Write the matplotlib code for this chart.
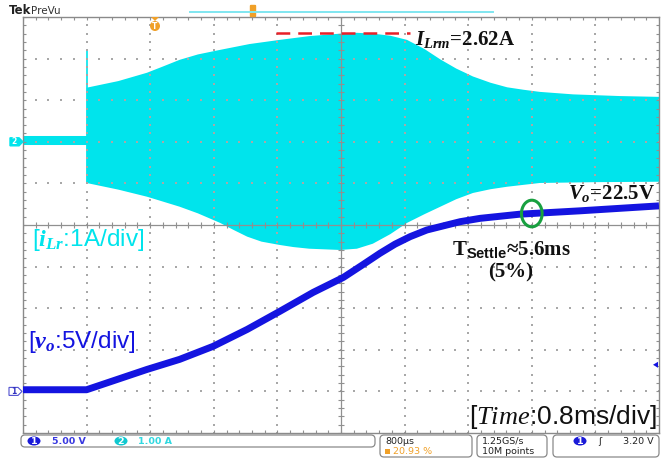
import matplotlib.pyplot as plt
import numpy as np
from matplotlib.collections import LineCollection
from matplotlib.patches import Ellipse, FancyBboxPatch, Circle, Polygon

# scope settings
T_DIV = 0.8      # ms/div
I_DIV = 1.0      # A/div  (channel 2)
V_DIV = 5.0      # V/div  (channel 1)
I_POS = 2        # channel 2 ground, divisions
V_POS = -4       # channel 1 ground, divisions

# resonant inductor current envelope (ms, A)
t_top = [0.80, 1.20, 1.56, 1.76, 1.97, 2.20, 2.48, 2.85, 3.23, 3.60, 3.99, 4.20,
         4.40, 4.62, 4.83, 5.05, 5.25, 5.45, 5.66, 5.88, 6.09, 6.30, 6.50, 6.92,
         7.50, 8.00]
i_top = [1.30, 1.46, 1.66, 1.81, 1.97, 2.10, 2.21, 2.35, 2.45, 2.54, 2.60, 2.62,
         2.60, 2.55, 2.45, 2.23, 1.98, 1.76, 1.57, 1.42, 1.31, 1.25, 1.20, 1.14,
         1.10, 1.08]
t_bot = [0.80, 1.20, 1.56, 1.97, 2.20, 2.48, 2.65, 2.82, 3.00, 3.23, 3.40, 3.60,
         3.99, 4.20, 4.40, 4.62, 4.83, 5.05, 5.25, 5.45, 5.66, 5.88, 6.09, 6.50,
         7.20, 8.00]
i_bot = [-0.99, -1.15, -1.32, -1.56, -1.72, -1.95, -2.12, -2.28, -2.40, -2.48, -2.53,
         -2.57, -2.60, -2.57, -2.45, -2.22, -1.95, -1.74, -1.56, -1.38, -1.23, -1.14,
         -1.08, -0.99, -0.97, -0.96]
t_pre = [0.0, 0.80]
i_pre = [0.05, 0.05]
i_spike = 2.2

# output voltage (ms, V)
t_vo = [0.00, 0.80, 1.56, 1.97, 2.39, 2.82, 3.23, 3.65, 4.03, 4.27, 4.49, 4.68,
        4.87, 5.08, 5.31, 5.50, 5.75, 6.25, 7.00, 8.00]
vo = [0.2, 0.2, 2.64, 3.85, 5.41, 7.45, 9.62, 11.9, 13.7, 15.2, 16.6, 17.7,
      18.6, 19.4, 19.95, 20.4, 20.8, 21.3, 21.7, 22.3]

I_LRM = 2.62
T_START = 0.8
T_SETTLE = 5.6

CYAN = '#00e4ec'
BLUE = '#1414e0'
ORANGE = '#f0a028'
GRID = '#a8a8a8'

plt.rcParams.update({
    'mathtext.fontset': 'custom',
    'mathtext.rm': 'Liberation Serif:bold',
    'mathtext.it': 'Liberation Serif:italic:bold',
    'mathtext.bf': 'Liberation Serif:bold',
    'mathtext.sf': 'Liberation Sans:bold',
    'mathtext.cal': 'Liberation Serif:italic',   # used for the plain italic "Time"
})


def ch2(i):
    return np.asarray(i) / I_DIV + I_POS


def ch1(v):
    return np.asarray(v) / V_DIV + V_POS


W, H = 661, 459
fig = plt.figure(figsize=(W / 100, H / 100), dpi=100)
x0, x1, y0, y1 = 23, 659, 17, 433
ax = fig.add_axes([x0 / W, 1 - y1 / H, (x1 - x0) / W, (y1 - y0) / H])
ax.set_xlim(0, 10 * T_DIV)
ax.set_ylim(-5, 5)
ax.set_xticks([])
ax.set_yticks([])
for s in ax.spines.values():
    s.set_color('#8a8a8a')
    s.set_linewidth(1.0)

# ---- graticule ----
xmaj = np.arange(1, 10) * T_DIV
ymaj = np.arange(-4, 5)
xmin = np.arange(0, 50 + 1) * T_DIV / 5
ymin = np.arange(-25, 26) / 5
dots = []
for xv in xmaj:
    if abs(xv - 5 * T_DIV) > 1e-6:
        dots += [(xv, yv) for yv in ymin]
for yv in ymaj:
    if yv != 0:
        dots += [(xv, yv) for xv in xmin]
dots = np.array(dots)
ax.scatter(dots[:, 0], dots[:, 1], s=1.3, marker='s', color=GRID, lw=0, zorder=2)

ax.axhline(0, color='#909090', lw=0.9, zorder=2)
ax.axvline(5 * T_DIV, color='#909090', lw=0.9, zorder=2)
dx = 3 / 63.6 * T_DIV
dy = 3 / 41.6
ticks = []
for xv in xmin:
    ticks.append([(xv, -dy), (xv, dy)])
    ticks.append([(xv, 5), (xv, 5 - dy)])
    ticks.append([(xv, -5), (xv, -5 + dy)])
for yv in ymin:
    ticks.append([(5 * T_DIV - dx, yv), (5 * T_DIV + dx, yv)])
    ticks.append([(0, yv), (dx, yv)])
    ticks.append([(10 * T_DIV, yv), (10 * T_DIV - dx, yv)])
ax.add_collection(LineCollection(ticks, colors='#909090', linewidths=0.8, zorder=2))

# ---- channel 2: inductor current ----
env_x = np.concatenate([t_top, t_bot[::-1]])
env_y = np.concatenate([ch2(i_top), ch2(i_bot[::-1])])
ax.fill(env_x, env_y, color=CYAN, lw=0, zorder=1)
ax.plot(t_pre, ch2(i_pre), color=CYAN, lw=6.5, solid_capstyle='butt', zorder=1)
ax.plot([T_START, T_START], ch2([i_bot[0], i_spike]), color=CYAN, lw=1.2, zorder=1)

# ---- channel 1: output voltage ----
ax.plot(t_vo, ch1(vo), color=BLUE, lw=5, solid_capstyle='butt', zorder=3)

# peak current marker
ax.plot([3.18, 4.87], ch2([I_LRM, I_LRM]), color='#e82028', lw=1.8,
        dashes=(5.5, 3.2), zorder=4)

# settling point
t_s = T_START + T_SETTLE
ax.add_patch(Ellipse((t_s, ch1(np.interp(t_s, t_vo, vo))), 0.26, 0.64,
                     fill=False, ec='#18a040', lw=2.2, zorder=5))

serif = dict(family='Liberation Serif', weight='bold', fontsize=15, color='#111111',
             zorder=6)
ax.text(4.93, 4.33, r'$I_{Lrm}$=2.62A', ha='left', va='baseline', **serif)
ax.text(7.95, 0.63, r'$V_o$=22.5V', ha='right', va='baseline', **serif)
ax.text(5.40, -0.72, r'T$_{\mathsf{Settle}}$≈5.6ms', ha='left', va='baseline', **serif)
ax.text(6.13, -1.25, '(5%)', ha='center', va='baseline', **serif)

ax.text(0.11, -0.50, r'[$i_{Lr}$:1A/div]', ha='left', va='baseline',
        family='Liberation Sans', fontsize=17.5, color=CYAN, zorder=6)
ax.text(0.06, -2.96, r'[$v_o$:5V/div]', ha='left', va='baseline',
        family='Liberation Sans', fontsize=17.5, color=BLUE, zorder=6)
ax.text(7.97, -4.78, r'[$\mathcal{Time}$:0.8ms/div]', ha='right', va='baseline',
        family='Liberation Sans', fontsize=19, color='#111111', zorder=6)

# ---- screen chrome, drawn in pixel coordinates ----
ov = fig.add_axes([0, 0, 1, 1], facecolor='none')
ov.set_xlim(0, W)
ov.set_ylim(H, 0)
ov.axis('off')

ov.text(9, 11, 'Tek', fontsize=8.5, weight='bold', family='DejaVu Sans',
        va='center', color='#222222')
ov.text(31, 11, 'PreVu', fontsize=7.5, family='DejaVu Sans', va='center',
        color='#333333')
ov.plot([190, 493], [12, 12], color='#7fe6f0', lw=1.4)
ov.add_patch(FancyBboxPatch((251, 6), 4, 10, boxstyle='round,pad=0.5',
                            fc=ORANGE, ec=ORANGE))
# trigger position
ov.add_patch(Polygon([(151, 17), (159, 17), (155, 21)], closed=True, fc=ORANGE,
                     ec='none'))
ov.add_patch(Circle((155, 26), 5, fc=ORANGE, ec='none'))
ov.text(155, 26.5, 'T', fontsize=5.5, weight='bold', color='white',
        ha='center', va='center')

# channel ground markers
gy2 = y0 + (5 - I_POS) * (y1 - y0) / 10
gy1 = y0 + (5 - V_POS) * (y1 - y0) / 10
ov.add_patch(Polygon([(10, gy2 - 4), (19, gy2 - 4), (23, gy2), (19, gy2 + 4),
                      (10, gy2 + 4)], closed=True, fc=CYAN, ec=CYAN))
ov.text(14, gy2, '2', fontsize=5.5, weight='bold', color='white', ha='center',
        va='center')
ov.add_patch(Polygon([(9, gy1 - 4), (18, gy1 - 4), (22, gy1), (18, gy1 + 4),
                      (9, gy1 + 4)], closed=True, fc='white', ec='#5050d0', lw=0.8))
ov.text(13.5, gy1, '1', fontsize=5.5, weight='bold', color='#3030c0',
        ha='center', va='center')
# trigger level arrow on the right
ly = y0 + (5 - ch1(3.20)) * (y1 - y0) / 10
ov.add_patch(Polygon([(653, ly), (658, ly - 3), (658, ly + 3)], closed=True,
                     fc=BLUE, ec='none'))

# status bar
box = dict(boxstyle='round,pad=0,rounding_size=4', fc='white', ec='#8a8a8a', lw=0.9)
ov.add_patch(FancyBboxPatch((21, 435), 354, 12, **box))
ov.add_patch(FancyBboxPatch((380, 435), 92, 22, **box))
ov.add_patch(FancyBboxPatch((477, 435), 70, 22, **box))
ov.add_patch(FancyBboxPatch((553, 435), 106, 22, **box))

small = dict(fontsize=6.8, family='DejaVu Sans', va='center')
ov.add_patch(Ellipse((34, 441), 13, 9, fc='#1a1ad8', ec='none'))
ov.text(34, 441, '1', color='white', ha='center', weight='bold', **small)
ov.text(52, 441, '5.00 V', color='#3838e0', weight='bold', **small)
ov.add_patch(Ellipse((121, 441), 13, 9, fc='#10c8d0', ec='none'))
ov.text(121, 441, '2', color='white', ha='center', weight='bold', **small)
ov.text(138, 441, '1.00 A', color='#30d8e0', weight='bold', **small)

ov.text(385, 441, '800µs', color='#222222', **small)
ov.add_patch(FancyBboxPatch((385, 449), 5, 5, boxstyle='square,pad=0',
                            fc=ORANGE, ec='none'))
ov.text(393, 451.5, '20.93 %', color=ORANGE, **small)
ov.text(482, 441, '1.25GS/s', color='#222222', **small)
ov.text(482, 451.5, '10M points', color='#222222', **small)
ov.add_patch(Ellipse((580, 441), 13, 9, fc='#1a1ad8', ec='none'))
ov.text(580, 441, '1', color='white', ha='center', weight='bold', **small)
ov.text(598, 441, 'ʃ', color='#222222', **small)
ov.text(654, 441, '3.20 V', color='#222222', ha='right', **small)

fig.savefig('out.png', dpi=100)
